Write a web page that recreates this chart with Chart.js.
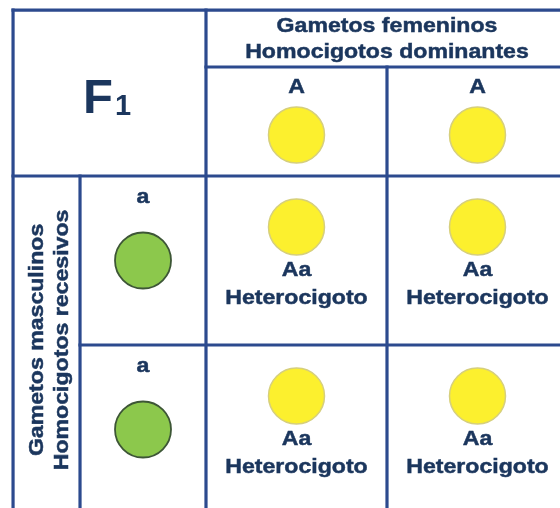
<!DOCTYPE html>
<html>
<head>
<meta charset="utf-8">
<script src="https://cdn.jsdelivr.net/npm/chart.js@4"></script>
<style>
  html, body { margin: 0; padding: 0; background: #fff; }
  #wrap { width: 560px; height: 508px; }
</style>
</head>
<body>
<div id="wrap"><canvas id="punnett"></canvas></div>
<script>
// Cuadro de Punnett F1: hembra AA x macho aa
let crossLabel = ['F', '1'];
let femaleTitle = ['Gametos femeninos', 'Homocigotos dominantes'];
let maleTitle = ['Gametos masculinos', 'Homocigotos recesivos'];
let femaleGametes = ['A', 'A'];
let maleGametes = ['a', 'a'];
let offspringGenotypes = [['Aa', 'Aa'], ['Aa', 'Aa']];
let offspringTypes = [['Heterocigoto', 'Heterocigoto'], ['Heterocigoto', 'Heterocigoto']];

const lineColor = '#2c4a8e';
const textColor = '#1b365d';
const yellow = '#fcf02e';
const yellowEdge = '#d6cf7c';
const green = '#8cc84c';
const greenEdge = '#3d5636';

function alleleColor(g) {
  return /[A-Z]/.test(g) ? yellow : green;
}
function alleleEdge(g) {
  return /[A-Z]/.test(g) ? yellowEdge : greenEdge;
}

// columnas: 1..2 y 2..3 son los gametos femeninos; filas 1..2 y 2..3 los masculinos
let femalePoints = femaleGametes.map((g, i) => ({ x: 1.5 + i, y: 0.757 }));
let malePoints = maleGametes.map((g, j) => ({ x: 0.652, y: 1.5 + j }));
let childPoints = [];
let childColors = [];
let childEdges = [];
offspringGenotypes.forEach((row, j) => {
  row.forEach((g, i) => {
    childPoints.push({ x: 1.5 + i, y: 1.302 + j });
    childColors.push(alleleColor(g));
    childEdges.push(alleleEdge(g));
  });
});

const FONT = '"Liberation Sans", Arial, Helvetica, sans-serif';

function label(ctx, text, x, y, size, rotate) {
  ctx.save();
  ctx.translate(x, y);
  if (rotate) ctx.rotate(-Math.PI / 2);
  ctx.scale(1.1, 1);
  ctx.font = 'bold ' + size + 'px ' + FONT;
  ctx.fillStyle = textColor;
  ctx.strokeStyle = textColor;
  ctx.lineWidth = 0.5;
  ctx.textAlign = 'center';
  ctx.textBaseline = 'alphabetic';
  ctx.fillText(text, 0, 0);
  ctx.strokeText(text, 0, 0);
  ctx.restore();
}

const tablePlugin = {
  id: 'tablePlugin',
  beforeDatasetsDraw(chart) {
    let ctx = chart.ctx;
    let xs = chart.scales.x;
    let ys = chart.scales.y;
    let segs = [
      // [x1, y1, x2, y2]
      [-0.066, 0.018, 3.2, 0.018],
      [-0.066, 0.018, -0.066, 3.2],
      [1, 0.018, 1, 3.2],
      [0.304, 1, 0.304, 3.2],
      [2, 0.355, 2, 3.2],
      [1, 0.355, 3.2, 0.355],
      [-0.066, 1, 3.2, 1],
      [0.304, 2, 3.2, 2]
    ];
    ctx.save();
    ctx.strokeStyle = lineColor;
    ctx.lineWidth = 3.2;
    ctx.lineCap = 'square';
    segs.forEach(s => {
      ctx.beginPath();
      ctx.moveTo(xs.getPixelForValue(s[0]), ys.getPixelForValue(s[1]));
      ctx.lineTo(xs.getPixelForValue(s[2]), ys.getPixelForValue(s[3]));
      ctx.stroke();
    });
    ctx.restore();
  },
  afterDatasetsDraw(chart) {
    let ctx = chart.ctx;
    let xs = chart.scales.x;
    let ys = chart.scales.y;
    let px = v => xs.getPixelForValue(v);
    let py = v => ys.getPixelForValue(v);

    // titulo gametos femeninos
    label(ctx, femaleTitle[0], px(2.0), py(0.148), 21);
    label(ctx, femaleTitle[1], px(2.0), py(0.302), 21);

    // titulo gametos masculinos (vertical)
    label(ctx, maleTitle[0], px(0.099), py(1.97), 21, true);
    label(ctx, maleTitle[1], px(0.237), py(1.97), 21, true);

    // F1
    ctx.save();
    ctx.fillStyle = textColor;
    ctx.textBaseline = 'alphabetic';
    ctx.textAlign = 'left';
    ctx.font = 'bold 49px ' + FONT;
    let wF = ctx.measureText(crossLabel[0]).width;
    ctx.font = 'bold 29px ' + FONT;
    let w1 = ctx.measureText(crossLabel[1]).width;
    let start = px(0.453) - (wF + w1 + 2) / 2;
    ctx.font = 'bold 49px ' + FONT;
    ctx.fillText(crossLabel[0], start, py(0.627));
    ctx.font = 'bold 29px ' + FONT;
    ctx.fillText(crossLabel[1], start + wF + 2, py(0.639));
    ctx.restore();

    femaleGametes.forEach((g, i) => label(ctx, g, px(1.5 + i), py(0.509), 21));
    maleGametes.forEach((g, j) => label(ctx, g, px(0.652), py(1.16 + j), 21));
    offspringGenotypes.forEach((row, j) => {
      row.forEach((g, i) => {
        label(ctx, g, px(1.5 + i), py(1.59 + j), 21);
        label(ctx, offspringTypes[j][i], px(1.5 + i), py(1.757 + j), 21);
      });
    });
  }
};

new Chart(document.getElementById('punnett'), {
  type: 'scatter',
  data: {
    datasets: [
      {
        label: 'Gametos femeninos',
        data: femalePoints,
        pointRadius: 28,
        pointBackgroundColor: femaleGametes.map(alleleColor),
        pointBorderColor: femaleGametes.map(alleleEdge),
        pointBorderWidth: 1.5
      },
      {
        label: 'Gametos masculinos',
        data: malePoints,
        pointRadius: 28,
        pointBackgroundColor: maleGametes.map(alleleColor),
        pointBorderColor: maleGametes.map(alleleEdge),
        pointBorderWidth: 1.8
      },
      {
        label: 'F1',
        data: childPoints,
        pointRadius: 28,
        pointBackgroundColor: childColors,
        pointBorderColor: childEdges,
        pointBorderWidth: 1.5
      }
    ]
  },
  options: {
    responsive: true,
    maintainAspectRatio: false,
    animation: false,
    events: [],
    layout: { padding: 0, autoPadding: false },
    plugins: {
      legend: { display: false },
      tooltip: { enabled: false }
    },
    scales: {
      x: { type: 'linear', display: false, min: -0.1381, max: 2.9558 },
      y: { type: 'linear', display: false, reverse: true, min: -0.0414, max: 2.9645 }
    }
  },
  plugins: [tablePlugin]
});
</script>
</body>
</html>
